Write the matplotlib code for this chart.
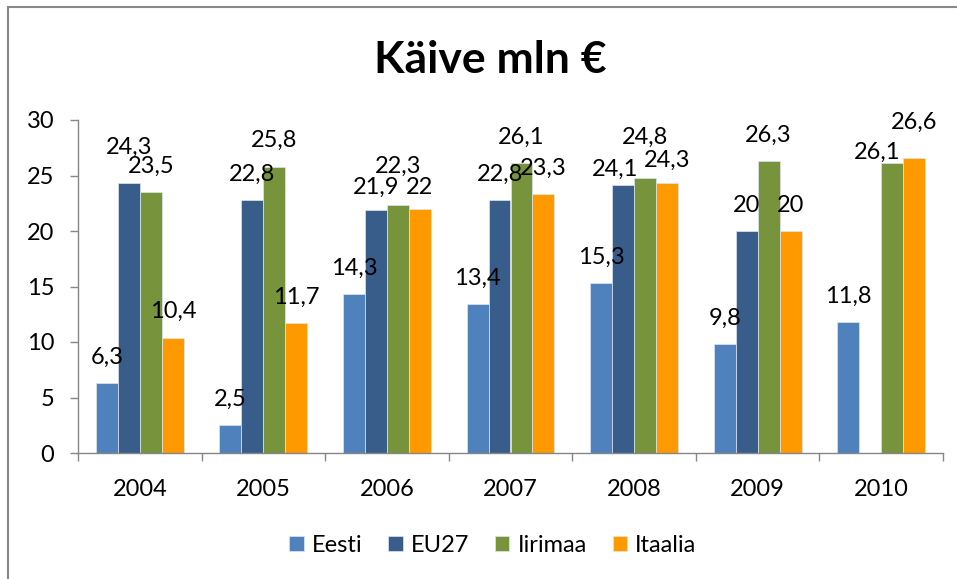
import numpy as np
import matplotlib
matplotlib.use('Agg')
import matplotlib.pyplot as plt
from matplotlib.patches import Rectangle

plt.rcParams['font.family'] = ['Lato', 'DejaVu Sans']

years = ['2004', '2005', '2006', '2007', '2008', '2009', '2010']
series_names = ['Eesti', 'EU27', 'Iirimaa', 'Itaalia']
eesti = [6.3, 2.5, 14.3, 13.4, 15.3, 9.8, 11.8]
eu27 = [24.3, 22.8, 21.9, 22.8, 24.1, 20.0, np.nan]
iirimaa = [23.5, 25.8, 22.3, 26.1, 24.8, 26.3, 26.1]
itaalia = [10.4, 11.7, 22.0, 23.3, 24.3, 20.0, 26.6]
colors = ['#4F81BD', '#385D8A', '#77933C', '#FF9900']

# label nudges (pixels) for the labels that were moved in the original, (series, year): (dx, dy)
nudges = {(1, 0): (0, 10), (2, 2): (0, 13), (3, 2): (0, -5), (1, 2): (0, -3),
          (1, 4): (-8, -10), (2, 4): (0, 14), (3, 4): (0, -3),
          (2, 6): (-15, -15), (3, 6): (0, 9)}

fs = 17

fig = plt.figure(figsize=(9.57, 5.79), dpi=100)
ax = fig.add_axes([78 / 957, 1 - 453 / 579, 865 / 957, 333 / 579])

# outer chart border (left and top visible)
fig.patches.append(Rectangle((8 / 957, -0.1), 1.2, 1 - 7 / 579 + 0.1, transform=fig.transFigure,
                             fill=False, edgecolor='#878787', linewidth=1.5))

x = np.arange(len(years))
w = 0.178
data = [eesti, eu27, iirimaa, itaalia]
for i, (name, vals) in enumerate(zip(series_names, data)):
    pos = x + (i - 1.5) * w
    ax.bar(pos, vals, w, color=colors[i], edgecolor='#DDE6F0', linewidth=0.5, label=name)
    for j, v in enumerate(vals):
        if np.isnan(v):
            continue
        dx, dy = nudges.get((i, j), (0, 0))
        lab = ('%g' % v).replace('.', ',')
        ax.annotate(lab, (pos[j], v), xytext=(dx * 0.72, (26 + dy) * 0.72),
                    textcoords='offset points', ha='center', va='center', fontsize=fs)

ax.set_xlim(-0.5, len(years) - 0.5)
ax.set_ylim(0, 30)
ax.set_yticks(range(0, 31, 5))
ax.set_xticks(x)
ax.set_xticklabels(years)
ax.set_xticks(np.arange(-0.5, len(years), 1), minor=True)
ax.tick_params(axis='x', which='major', length=0, pad=19, labelsize=fs)
ax.tick_params(axis='x', which='minor', length=6, color='#868686', width=1)
ax.tick_params(axis='y', length=6, color='#868686', width=1, pad=11, labelsize=fs)
for s in ['top', 'right']:
    ax.spines[s].set_visible(False)
for s in ['left', 'bottom']:
    ax.spines[s].set_color('#868686')
    ax.spines[s].set_linewidth(1)

fig.text(490 / 957, 1 - 60 / 579, 'Käive mln €', ha='center', va='center',
         fontsize=32, fontweight='bold')

fig.legend(loc='center', bbox_to_anchor=(493 / 957, 1 - 545 / 579), ncol=4, frameon=False,
           fontsize=fs, handlelength=0.6, handleheight=0.6, handletextpad=0.35, columnspacing=1.1)

fig.savefig('out.png', dpi=100)
